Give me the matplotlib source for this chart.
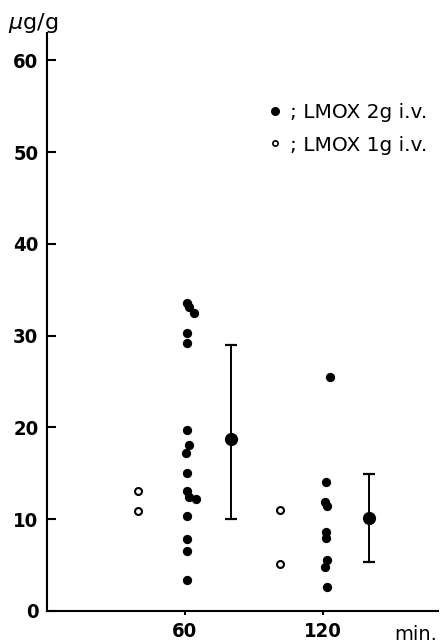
import matplotlib
matplotlib.use("Agg")
import matplotlib.pyplot as plt
from matplotlib.lines import Line2D

# LMOX 2g i.v. (filled) - individual values
x_2g = [61, 62, 64, 61, 61, 61, 62, 60.5, 61, 61, 62, 65, 61, 61, 61, 61,
        123, 121.5, 121, 122, 121.5, 121.5, 122, 121, 122]
y_2g = [33.6, 33.1, 32.5, 30.3, 29.2, 19.7, 18.1, 17.2, 15.0, 13.1, 12.4, 12.2, 10.4, 7.8, 6.5, 3.4,
        25.5, 14.1, 11.9, 11.4, 8.65, 7.9, 5.6, 4.8, 2.65]

# LMOX 1g i.v. (open)
x_1g = [39.6, 39.6, 101.3, 101.5]
y_1g = [13.1, 10.9, 11.0, 5.1]

# mean +- SD of the 2g group
x_mean = [80, 140]
y_mean = [18.7, 10.1]
y_low = [10.0, 5.3]
y_high = [29.0, 14.9]

xticks = [60, 120]
yticks = [0, 10, 20, 30, 40, 50, 60]

fig = plt.figure(figsize=(4.41, 6.43), dpi=100)
ax = fig.add_axes([0.106, 0.0498, 0.887, 0.899])

ax.plot(x_2g, y_2g, 'o', color='black', ms=6.7, mew=0)
ax.plot(x_1g, y_1g, 'o', mfc='white', mec='black', ms=5, mew=1.5)
err = [[m - l for m, l in zip(y_mean, y_low)], [h - m for m, h in zip(y_mean, y_high)]]
ax.errorbar(x_mean, y_mean, yerr=err, fmt='none', ecolor='black',
            elinewidth=1.4, capsize=4.3, capthick=1.6)
ax.plot(x_mean, y_mean, 'o', color='black', ms=9.5, mew=0)

ax.set_xlim(0, 170)
ax.set_ylim(0, 63)
ax.set_xticks(xticks)
ax.set_yticks(yticks)
for s in ['top', 'right']:
    ax.spines[s].set_visible(False)
for s in ['left', 'bottom']:
    ax.spines[s].set_linewidth(1.5)
ax.tick_params(axis='y', direction='in', length=6.5, width=1.5, pad=6)
ax.tick_params(axis='x', direction='out', length=3, width=1.5, pad=5)
for lab in ax.get_xticklabels() + ax.get_yticklabels():
    lab.set_fontfamily('DejaVu Sans')
    lab.set_fontstretch('condensed')
    lab.set_fontweight('bold')
    lab.set_fontsize(14.5)

handles = [Line2D([], [], marker='o', ls='', color='black', ms=6.5, mew=0),
           Line2D([], [], marker='o', ls='', mfc='white', mec='black', ms=3.8, mew=1.2)]
ax.legend(handles, ['; LMOX 2g i.v.', '; LMOX 1g i.v.'], loc='upper left',
          bbox_to_anchor=(0.561, 0.878), frameon=False, fontsize=14.5,
          handlelength=0.9, handletextpad=0.3, labelspacing=0.65,
          borderpad=0, borderaxespad=0)

fig.text(0.018, 0.964, r'$\mu$g/g', fontsize=16, va='center', ha='left')
ax.text(0.997, -0.04, 'min.', transform=ax.transAxes, fontsize=14, ha='right', va='center')

fig.savefig('out.png', dpi=100)
